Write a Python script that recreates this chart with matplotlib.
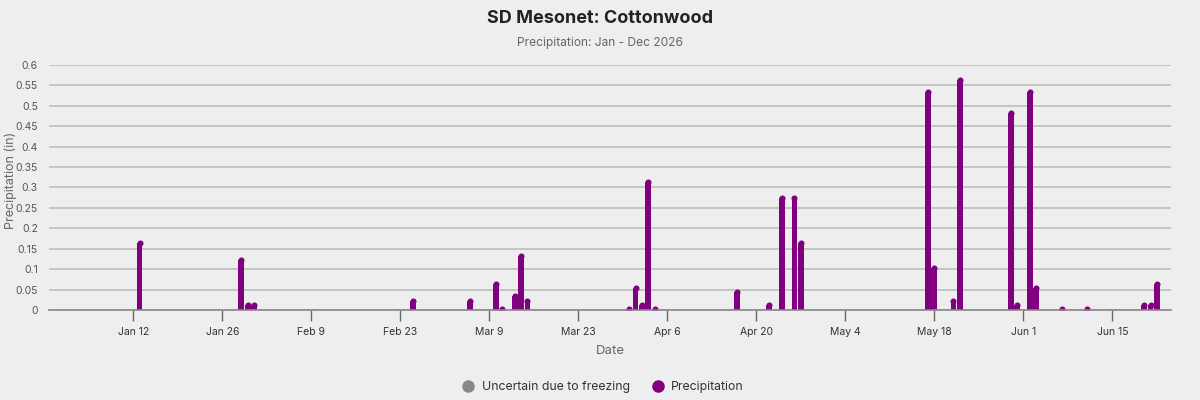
import matplotlib.dates as mdates
import pandas as pd
from matplotlib import pyplot as plt
from matplotlib.lines import Line2D

# Daily precipitation (in), days with no rain left out
dates = ['2026-01-13', '2026-01-29', '2026-01-30', '2026-01-31', '2026-02-25',
         '2026-03-06', '2026-03-10', '2026-03-11', '2026-03-13', '2026-03-14',
         '2026-03-15', '2026-03-31', '2026-04-01', '2026-04-02', '2026-04-03',
         '2026-04-04', '2026-04-17', '2026-04-22', '2026-04-24', '2026-04-26',
         '2026-04-27', '2026-05-17', '2026-05-18', '2026-05-21', '2026-05-22',
         '2026-05-30', '2026-05-31', '2026-06-02', '2026-06-03', '2026-06-07',
         '2026-06-11', '2026-06-20', '2026-06-21', '2026-06-22']
precip = [0.17, 0.13, 0.02, 0.02, 0.03,
          0.03, 0.07, 0.01, 0.04, 0.14,
          0.03, 0.01, 0.06, 0.02, 0.32,
          0.01, 0.05, 0.02, 0.28, 0.28,
          0.17, 0.54, 0.11, 0.03, 0.57,
          0.49, 0.02, 0.54, 0.06, 0.01,
          0.01, 0.02, 0.02, 0.07]

tick_dates = ['2026-01-12', '2026-01-26', '2026-02-09', '2026-02-23', '2026-03-09',
              '2026-03-23', '2026-04-06', '2026-04-20', '2026-05-04', '2026-05-18',
              '2026-06-01', '2026-06-15']
tick_labels = ['Jan 12', 'Jan 26', 'Feb 9', 'Feb 23', 'Mar 9', 'Mar 23',
               'Apr 6', 'Apr 20', 'May 4', 'May 18', 'Jun 1', 'Jun 15']
y_ticks = [0, 0.05, 0.1, 0.15, 0.2, 0.25, 0.3, 0.35, 0.4, 0.45, 0.5, 0.55, 0.6]
y_labels = ['0', '0.05', '0.1', '0.15', '0.2', '0.25', '0.3', '0.35', '0.4',
            '0.45', '0.5', '0.55', '0.6']

plt.rcParams['font.family'] = ['Inter', 'DejaVu Sans']
bg = '#eeeeee'
purple = '#800080'

fig = plt.figure(figsize=(12, 4), dpi=100, facecolor=bg)
ax = fig.add_axes([0.0408, 0.225, 0.935, 0.613])
ax.set_facecolor(bg)

# bars with a rounded top: shorten the bar by the cap radius, then add a dot
x = mdates.date2num(pd.to_datetime(dates))
cap = 0.0068
ax.bar(x, [max(v - cap, 0) for v in precip], width=0.92, color=purple, zorder=3)
ax.scatter(x, [max(v - cap, 0) for v in precip], s=19, color=purple,
           linewidths=0, zorder=3, clip_on=True)

ax.set_xlim(mdates.date2num(pd.Timestamp('2025-12-29 18:00')),
            mdates.date2num(pd.Timestamp('2026-06-24 05:00')))
ax.set_ylim(0, 0.6)

ax.set_xticks(mdates.date2num(pd.to_datetime(tick_dates)))
ax.set_xticklabels(tick_labels)
ax.set_yticks(y_ticks)
ax.set_yticklabels(y_labels)

ax.grid(axis='y', color='#bdbdbd', linewidth=1.2, zorder=0)
for side in ['top', 'right', 'left']:
    ax.spines[side].set_visible(False)
ax.spines['bottom'].set_color('#888888')
ax.spines['bottom'].set_linewidth(1.2)
ax.spines['bottom'].set_zorder(4)
ax.tick_params(axis='x', length=8, width=1, color='#666666', labelsize=7.5,
               labelcolor='#333333', pad=4)
ax.tick_params(axis='y', length=0, labelsize=7.5, labelcolor='#555555', pad=8)

ax.set_xlabel('Date', fontsize=9.5, color='#666666', labelpad=6)
ax.set_ylabel('Precipitation (in)', fontsize=9, color='#666666')
ax.yaxis.set_label_coords(-0.0285, 0.53)

fig.text(0.5, 0.953, 'SD Mesonet: Cottonwood', ha='center', va='center',
         fontsize=13, fontweight='bold', color='#222222')
fig.text(0.5, 0.892, 'Precipitation: Jan - Dec 2026', ha='center', va='center',
         fontsize=8.6, color='#666666')

handles = [Line2D([], [], marker='o', linestyle='', markersize=8,
                  color='#888888', label='Uncertain due to freezing'),
           Line2D([], [], marker='o', linestyle='', markersize=8,
                  color=purple, label='Precipitation')]
fig.legend(handles=handles, loc='center', bbox_to_anchor=(0.5, 0.032), ncol=2,
           frameon=False, fontsize=8.8, handletextpad=0.1, columnspacing=1.3,
           labelcolor='#333333')

fig.savefig('out.png', facecolor=bg)
